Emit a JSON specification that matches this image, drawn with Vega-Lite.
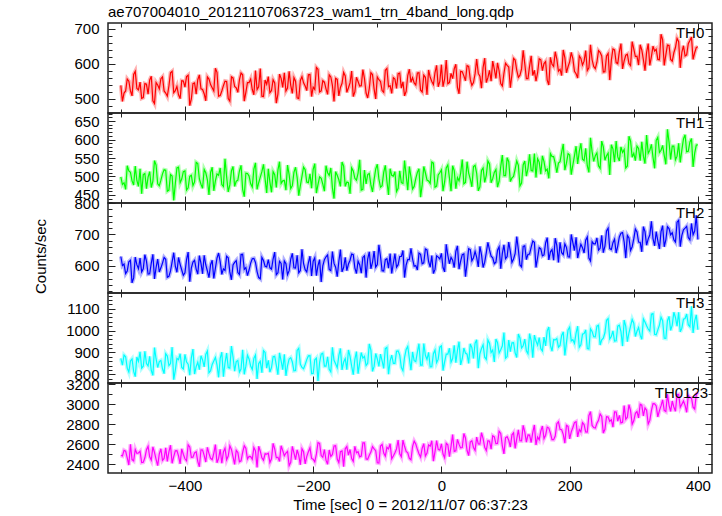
{
"$schema": "https://vega.github.io/schema/vega-lite/v6.json",
"padding": {"left": 33, "top": 4, "right": 0, "bottom": 0},
"config": {"font": "Liberation Sans", "view": {"stroke": "#222", "strokeWidth": 1.5}, "axis": {"labelFont": "Liberation Sans", "titleFont": "Liberation Sans", "labelColor": "black", "titleColor": "black", "tickColor": "#222", "grid": false}},
"data": {"values": [
{"t":-500,"TH0":539,"TH1":499,"TH2":630,"TH3":873,"TH0123":2490},
{"t":-495,"TH0":517,"TH1":483,"TH2":606,"TH3":888,"TH0123":2540},
{"t":-490,"TH0":557,"TH1":529,"TH2":584,"TH3":828,"TH0123":2465},
{"t":-485,"TH0":523,"TH1":511,"TH2":618,"TH3":861,"TH0123":2600},
{"t":-480,"TH0":570,"TH1":477,"TH2":562,"TH3":813,"TH0123":2435},
{"t":-475,"TH0":530,"TH1":489,"TH2":604,"TH3":879,"TH0123":2510},
{"t":-470,"TH0":548,"TH1":521,"TH2":625,"TH3":903,"TH0123":2530},
{"t":-465,"TH0":504,"TH1":505,"TH2":591,"TH3":837,"TH0123":2420},
{"t":-460,"TH0":542,"TH1":467,"TH2":615,"TH3":849,"TH0123":2545},
{"t":-455,"TH0":554,"TH1":513,"TH2":575,"TH3":882,"TH0123":2475},
{"t":-450,"TH0":495,"TH1":487,"TH2":637,"TH3":795,"TH0123":2575},
{"t":-445,"TH0":547,"TH1":531,"TH2":595,"TH3":870,"TH0123":2450},
{"t":-440,"TH0":529,"TH1":475,"TH2":581,"TH3":858,"TH0123":2505},
{"t":-435,"TH0":563,"TH1":507,"TH2":609,"TH3":825,"TH0123":2440},
{"t":-430,"TH0":517,"TH1":517,"TH2":621,"TH3":894,"TH0123":2565},
{"t":-425,"TH0":537,"TH1":463,"TH2":567,"TH3":840,"TH0123":2525},
{"t":-420,"TH0":579,"TH1":501,"TH2":613,"TH3":924,"TH0123":2410},
{"t":-415,"TH0":524,"TH1":481,"TH2":599,"TH3":819,"TH0123":2535},
{"t":-410,"TH0":512,"TH1":525,"TH2":627,"TH3":867,"TH0123":2485},
{"t":-405,"TH0":552,"TH1":493,"TH2":587,"TH3":831,"TH0123":2555},
{"t":-400,"TH0":534,"TH1":515,"TH2":578,"TH3":891,"TH0123":2455},
{"t":-395,"TH0":568,"TH1":469,"TH2":644,"TH3":846,"TH0123":2595},
{"t":-390,"TH0":500,"TH1":503,"TH2":594,"TH3":876,"TH0123":2470},
{"t":-385,"TH0":546,"TH1":485,"TH2":618,"TH3":801,"TH0123":2515},
{"t":-380,"TH0":555,"TH1":535,"TH2":574,"TH3":855,"TH0123":2430},
{"t":-375,"TH0":529,"TH1":479,"TH2":608,"TH3":885,"TH0123":2545},
{"t":-370,"TH0":515,"TH1":519,"TH2":634,"TH3":834,"TH0123":2490},
{"t":-365,"TH0":563,"TH1":491,"TH2":584,"TH3":906,"TH0123":2570},
{"t":-360,"TH0":541,"TH1":511,"TH2":604,"TH3":816,"TH0123":2460},
{"t":-355,"TH0":523,"TH1":461,"TH2":560,"TH3":861,"TH0123":2510},
{"t":-350,"TH0":576,"TH1":507,"TH2":625,"TH3":843,"TH0123":2415},
{"t":-345,"TH0":510,"TH1":523,"TH2":613,"TH3":873,"TH0123":2550},
{"t":-340,"TH0":538,"TH1":473,"TH2":591,"TH3":789,"TH0123":2525},
{"t":-335,"TH0":550,"TH1":499,"TH2":631,"TH3":897,"TH0123":2445},
{"t":-330,"TH0":494,"TH1":477,"TH2":581,"TH3":828,"TH0123":2585},
{"t":-325,"TH0":560,"TH1":527,"TH2":603,"TH3":879,"TH0123":2475},
{"t":-320,"TH0":532,"TH1":487,"TH2":617,"TH3":858,"TH0123":2540},
{"t":-315,"TH0":555,"TH1":515,"TH2":573,"TH3":810,"TH0123":2425},
{"t":-310,"TH0":569,"TH1":465,"TH2":637,"TH3":912,"TH0123":2520},
{"t":-305,"TH0":519,"TH1":509,"TH2":595,"TH3":837,"TH0123":2560},
{"t":-300,"TH0":547,"TH1":501,"TH2":587,"TH3":870,"TH0123":2480},
{"t":-295,"TH0":527,"TH1":471,"TH2":623,"TH3":822,"TH0123":2450},
{"t":-290,"TH0":581,"TH1":537,"TH2":611,"TH3":888,"TH0123":2535},
{"t":-285,"TH0":535,"TH1":483,"TH2":563,"TH3":849,"TH0123":2580},
{"t":-280,"TH0":508,"TH1":513,"TH2":627,"TH3":807,"TH0123":2465},
{"t":-275,"TH0":554,"TH1":493,"TH2":599,"TH3":900,"TH0123":2505},
{"t":-270,"TH0":564,"TH1":521,"TH2":620,"TH3":864,"TH0123":2510},
{"t":-265,"TH0":524,"TH1":457,"TH2":590,"TH3":831,"TH0123":2455},
{"t":-260,"TH0":546,"TH1":505,"TH2":644,"TH3":882,"TH0123":2555},
{"t":-255,"TH0":514,"TH1":517,"TH2":578,"TH3":798,"TH0123":2470},
{"t":-250,"TH0":559,"TH1":481,"TH2":608,"TH3":861,"TH0123":2585},
{"t":-245,"TH0":575,"TH1":489,"TH2":616,"TH3":891,"TH0123":2485},
{"t":-240,"TH0":531,"TH1":531,"TH2":572,"TH3":840,"TH0123":2530},
{"t":-235,"TH0":539,"TH1":467,"TH2":622,"TH3":876,"TH0123":2420},
{"t":-230,"TH0":561,"TH1":511,"TH2":594,"TH3":816,"TH0123":2515},
{"t":-225,"TH0":503,"TH1":497,"TH2":634,"TH3":909,"TH0123":2545},
{"t":-220,"TH0":553,"TH1":475,"TH2":585,"TH3":846,"TH0123":2395},
{"t":-215,"TH0":546,"TH1":525,"TH2":607,"TH3":825,"TH0123":2525},
{"t":-210,"TH0":524,"TH1":485,"TH2":581,"TH3":867,"TH0123":2480},
{"t":-205,"TH0":570,"TH1":507,"TH2":631,"TH3":885,"TH0123":2565},
{"t":-200,"TH0":534,"TH1":519,"TH2":615,"TH3":804,"TH0123":2450},
{"t":-195,"TH0":590,"TH1":455,"TH2":569,"TH3":874,"TH0123":2502},
{"t":-190,"TH0":520,"TH1":499,"TH2":620,"TH3":854,"TH0123":2608},
{"t":-185,"TH0":552,"TH1":479,"TH2":600,"TH3":896,"TH0123":2470},
{"t":-180,"TH0":529,"TH1":529,"TH2":629,"TH3":837,"TH0123":2441},
{"t":-175,"TH0":569,"TH1":503,"TH2":589,"TH3":823,"TH0123":2543},
{"t":-170,"TH0":539,"TH1":469,"TH2":646,"TH3":923,"TH0123":2499},
{"t":-165,"TH0":559,"TH1":513,"TH2":596,"TH3":848,"TH0123":2586},
{"t":-160,"TH0":509,"TH1":491,"TH2":614,"TH3":885,"TH0123":2417},
{"t":-155,"TH0":545,"TH1":539,"TH2":581,"TH3":820,"TH0123":2534},
{"t":-150,"TH0":566,"TH1":473,"TH2":627,"TH3":872,"TH0123":2555},
{"t":-145,"TH0":532,"TH1":483,"TH2":606,"TH3":911,"TH0123":2492},
{"t":-140,"TH0":580,"TH1":523,"TH2":638,"TH3":837,"TH0123":2458},
{"t":-135,"TH0":520,"TH1":495,"TH2":594,"TH3":868,"TH0123":2580},
{"t":-130,"TH0":550,"TH1":509,"TH2":615,"TH3":803,"TH0123":2526},
{"t":-125,"TH0":538,"TH1":463,"TH2":577,"TH3":899,"TH0123":2483},
{"t":-120,"TH0":558,"TH1":517,"TH2":632,"TH3":882,"TH0123":2614},
{"t":-115,"TH0":503,"TH1":505,"TH2":622,"TH3":850,"TH0123":2451},
{"t":-110,"TH0":575,"TH1":477,"TH2":591,"TH3":911,"TH0123":2522},
{"t":-105,"TH0":529,"TH1":491,"TH2":647,"TH3":836,"TH0123":2554},
{"t":-100,"TH0":563,"TH1":533,"TH2":604,"TH3":870,"TH0123":2415},
{"t":-95,"TH0":550,"TH1":471,"TH2":630,"TH3":892,"TH0123":2582},
{"t":-90,"TH0":519,"TH1":511,"TH2":584,"TH3":827,"TH0123":2513},
{"t":-85,"TH0":587,"TH1":487,"TH2":623,"TH3":923,"TH0123":2570},
{"t":-80,"TH0":538,"TH1":521,"TH2":639,"TH3":861,"TH0123":2606},
{"t":-75,"TH0":561,"TH1":501,"TH2":608,"TH3":850,"TH0123":2483},
{"t":-70,"TH0":530,"TH1":459,"TH2":596,"TH3":905,"TH0123":2554},
{"t":-65,"TH0":574,"TH1":515,"TH2":630,"TH3":887,"TH0123":2506},
{"t":-60,"TH0":549,"TH1":481,"TH2":649,"TH3":816,"TH0123":2642},
{"t":-55,"TH0":522,"TH1":503,"TH2":603,"TH3":913,"TH0123":2528},
{"t":-50,"TH0":585,"TH1":527,"TH2":620,"TH3":872,"TH0123":2460},
{"t":-45,"TH0":561,"TH1":466,"TH2":622,"TH3":902,"TH0123":2577},
{"t":-40,"TH0":540,"TH1":494,"TH2":601,"TH3":858,"TH0123":2603},
{"t":-35,"TH0":575,"TH1":521,"TH2":641,"TH3":940,"TH0123":2505},
{"t":-30,"TH0":520,"TH1":477,"TH2":607,"TH3":842,"TH0123":2561},
{"t":-25,"TH0":562,"TH1":510,"TH2":654,"TH3":887,"TH0123":2483},
{"t":-20,"TH0":583,"TH1":488,"TH2":614,"TH3":900,"TH0123":2594},
{"t":-15,"TH0":550,"TH1":539,"TH2":633,"TH3":835,"TH0123":2636},
{"t":-10,"TH0":575,"TH1":471,"TH2":589,"TH3":911,"TH0123":2527},
{"t":-5,"TH0":535,"TH1":504,"TH2":628,"TH3":869,"TH0123":2549},
{"t":0,"TH0":598,"TH1":518,"TH2":640,"TH3":930,"TH0123":2605},
{"t":5,"TH0":557,"TH1":485,"TH2":581,"TH3":857,"TH0123":2465},
{"t":10,"TH0":544,"TH1":531,"TH2":634,"TH3":892,"TH0123":2594},
{"t":15,"TH0":573,"TH1":460,"TH2":627,"TH3":855,"TH0123":2579},
{"t":20,"TH0":586,"TH1":516,"TH2":595,"TH3":932,"TH0123":2529},
{"t":25,"TH0":533,"TH1":497,"TH2":664,"TH3":910,"TH0123":2649},
{"t":30,"TH0":579,"TH1":509,"TH2":615,"TH3":843,"TH0123":2564},
{"t":35,"TH0":566,"TH1":480,"TH2":638,"TH3":920,"TH0123":2708},
{"t":40,"TH0":595,"TH1":540,"TH2":607,"TH3":892,"TH0123":2538},
{"t":45,"TH0":556,"TH1":493,"TH2":652,"TH3":939,"TH0123":2623},
{"t":50,"TH0":547,"TH1":527,"TH2":626,"TH3":872,"TH0123":2568},
{"t":55,"TH0":614,"TH1":508,"TH2":627,"TH3":958,"TH0123":2672},
{"t":60,"TH0":565,"TH1":472,"TH2":662,"TH3":894,"TH0123":2602},
{"t":65,"TH0":590,"TH1":523,"TH2":595,"TH3":935,"TH0123":2657},
{"t":70,"TH0":547,"TH1":503,"TH2":642,"TH3":868,"TH0123":2537},
{"t":75,"TH0":582,"TH1":534,"TH2":651,"TH3":942,"TH0123":2631},
{"t":80,"TH0":608,"TH1":494,"TH2":626,"TH3":911,"TH0123":2686},
{"t":85,"TH0":559,"TH1":519,"TH2":612,"TH3":961,"TH0123":2606},
{"t":90,"TH0":580,"TH1":487,"TH2":661,"TH3":897,"TH0123":2731},
{"t":95,"TH0":537,"TH1":558,"TH2":640,"TH3":929,"TH0123":2585},
{"t":100,"TH0":602,"TH1":502,"TH2":623,"TH3":874,"TH0123":2665},
{"t":105,"TH0":591,"TH1":540,"TH2":676,"TH3":957,"TH0123":2640},
{"t":110,"TH0":570,"TH1":496,"TH2":611,"TH3":944,"TH0123":2695},
{"t":115,"TH0":611,"TH1":520,"TH2":640,"TH3":898,"TH0123":2559},
{"t":120,"TH0":562,"TH1":530,"TH2":652,"TH3":984,"TH0123":2744},
{"t":125,"TH0":586,"TH1":482,"TH2":597,"TH3":920,"TH0123":2634},
{"t":130,"TH0":601,"TH1":542,"TH2":664,"TH3":961,"TH0123":2724},
{"t":135,"TH0":558,"TH1":522,"TH2":637,"TH3":894,"TH0123":2693},
{"t":140,"TH0":623,"TH1":516,"TH2":660,"TH3":953,"TH0123":2618},
{"t":145,"TH0":582,"TH1":562,"TH2":675,"TH3":979,"TH0123":2793},
{"t":150,"TH0":575,"TH1":548,"TH2":626,"TH3":933,"TH0123":2673},
{"t":155,"TH0":612,"TH1":506,"TH2":654,"TH3":917,"TH0123":2732},
{"t":160,"TH0":601,"TH1":540,"TH2":635,"TH3":970,"TH0123":2657},
{"t":165,"TH0":554,"TH1":520,"TH2":690,"TH3":999,"TH0123":2772},
{"t":170,"TH0":619,"TH1":562,"TH2":645,"TH3":932,"TH0123":2712},
{"t":175,"TH0":593,"TH1":554,"TH2":618,"TH3":958,"TH0123":2646},
{"t":180,"TH0":614,"TH1":510,"TH2":665,"TH3":963,"TH0123":2806},
{"t":185,"TH0":585,"TH1":540,"TH2":675,"TH3":932,"TH0123":2751},
{"t":190,"TH0":640,"TH1":588,"TH2":636,"TH3":994,"TH0123":2700},
{"t":195,"TH0":575,"TH1":536,"TH2":659,"TH3":945,"TH0123":2790},
{"t":200,"TH0":606,"TH1":558,"TH2":628,"TH3":1016,"TH0123":2655},
{"t":205,"TH0":615,"TH1":531,"TH2":674,"TH3":958,"TH0123":2768},
{"t":210,"TH0":572,"TH1":582,"TH2":691,"TH3":988,"TH0123":2826},
{"t":215,"TH0":623,"TH1":568,"TH2":649,"TH3":924,"TH0123":2748},
{"t":220,"TH0":597,"TH1":547,"TH2":658,"TH3":983,"TH0123":2816},
{"t":225,"TH0":638,"TH1":576,"TH2":682,"TH3":1003,"TH0123":2724},
{"t":230,"TH0":589,"TH1":511,"TH2":625,"TH3":916,"TH0123":2886},
{"t":235,"TH0":612,"TH1":567,"TH2":677,"TH3":996,"TH0123":2789},
{"t":240,"TH0":587,"TH1":556,"TH2":670,"TH3":971,"TH0123":2762},
{"t":245,"TH0":638,"TH1":529,"TH2":650,"TH3":1024,"TH0123":2840},
{"t":250,"TH0":623,"TH1":596,"TH2":697,"TH3":958,"TH0123":2878},
{"t":255,"TH0":578,"TH1":544,"TH2":663,"TH3":990,"TH0123":2750},
{"t":260,"TH0":630,"TH1":563,"TH2":720,"TH3":1055,"TH0123":2873},
{"t":265,"TH0":611,"TH1":586,"TH2":652,"TH3":973,"TH0123":2846},
{"t":270,"TH0":640,"TH1":539,"TH2":685,"TH3":952,"TH0123":2924},
{"t":275,"TH0":601,"TH1":553,"TH2":663,"TH3":1020,"TH0123":2831},
{"t":280,"TH0":658,"TH1":580,"TH2":704,"TH3":995,"TH0123":2814},
{"t":285,"TH0":609,"TH1":573,"TH2":676,"TH3":1048,"TH0123":2987},
{"t":290,"TH0":628,"TH1":528,"TH2":697,"TH3":949,"TH0123":2870},
{"t":295,"TH0":595,"TH1":596,"TH2":649,"TH3":1020,"TH0123":2937},
{"t":300,"TH0":643,"TH1":563,"TH2":686,"TH3":1034,"TH0123":2835},
{"t":305,"TH0":622,"TH1":582,"TH2":708,"TH3":997,"TH0123":2928},
{"t":310,"TH0":655,"TH1":543,"TH2":675,"TH3":979,"TH0123":3001},
{"t":315,"TH0":612,"TH1":555,"TH2":725,"TH3":1053,"TH0123":2883},
{"t":320,"TH0":633,"TH1":612,"TH2":666,"TH3":1022,"TH0123":2941},
{"t":325,"TH0":596,"TH1":571,"TH2":698,"TH3":997,"TH0123":2839},
{"t":330,"TH0":651,"TH1":552,"TH2":687,"TH3":1078,"TH0123":3007},
{"t":335,"TH0":642,"TH1":598,"TH2":709,"TH3":981,"TH0123":2984},
{"t":340,"TH0":612,"TH1":565,"TH2":654,"TH3":1025,"TH0123":2937},
{"t":345,"TH0":669,"TH1":584,"TH2":728,"TH3":1045,"TH0123":3045},
{"t":350,"TH0":626,"TH1":533,"TH2":683,"TH3":964,"TH0123":2928},
{"t":355,"TH0":653,"TH1":593,"TH2":719,"TH3":1065,"TH0123":2990},
{"t":360,"TH0":608,"TH1":582,"TH2":706,"TH3":1025,"TH0123":3033},
{"t":365,"TH0":647,"TH1":545,"TH2":676,"TH3":1060,"TH0123":2931},
{"t":370,"TH0":664,"TH1":590,"TH2":745,"TH3":1084,"TH0123":3099},
{"t":375,"TH0":633,"TH1":572,"TH2":697,"TH3":1011,"TH0123":3001},
{"t":380,"TH0":623,"TH1":613,"TH2":720,"TH3":1055,"TH0123":2989},
{"t":385,"TH0":658,"TH1":568,"TH2":690,"TH3":1027,"TH0123":3087},
{"t":390,"TH0":677,"TH1":603,"TH2":735,"TH3":1111,"TH0123":3065},
{"t":395,"TH0":632,"TH1":563,"TH2":711,"TH3":1044,"TH0123":2952},
{"t":400,"TH0":649,"TH1":586,"TH2":684,"TH3":1004,"TH0123":3120},
{"t":-497.5,"TH0":493,"TH1":478,"TH2":601,"TH3":842,"TH0123":2483},
{"t":-492.5,"TH0":523,"TH1":465,"TH2":576,"TH3":880,"TH0123":2531},
{"t":-487.5,"TH0":551,"TH1":515,"TH2":613,"TH3":810,"TH0123":2393},
{"t":-482.5,"TH0":509,"TH1":488,"TH2":546,"TH3":870,"TH0123":2447},
{"t":-477.5,"TH0":579,"TH1":528,"TH2":628,"TH3":789,"TH0123":2549},
{"t":-472.5,"TH0":526,"TH1":473,"TH2":591,"TH3":859,"TH0123":2513},
{"t":-467.5,"TH0":502,"TH1":453,"TH2":581,"TH3":828,"TH0123":2417},
{"t":-462.5,"TH0":544,"TH1":508,"TH2":636,"TH3":905,"TH0123":2465},
{"t":-457.5,"TH0":514,"TH1":498,"TH2":574,"TH3":838,"TH0123":2579},
{"t":-452.5,"TH0":565,"TH1":470,"TH2":609,"TH3":817,"TH0123":2441},
{"t":-447.5,"TH0":487,"TH1":543,"TH2":559,"TH3":922,"TH0123":2519},
{"t":-442.5,"TH0":540,"TH1":480,"TH2":622,"TH3":831,"TH0123":2387},
{"t":-437.5,"TH0":558,"TH1":490,"TH2":594,"TH3":863,"TH0123":2555},
{"t":-432.5,"TH0":523,"TH1":518,"TH2":627,"TH3":803,"TH0123":2459},
{"t":-427.5,"TH0":508,"TH1":460,"TH2":564,"TH3":884,"TH0123":2429},
{"t":-422.5,"TH0":575,"TH1":505,"TH2":584,"TH3":849,"TH0123":2591},
{"t":-417.5,"TH0":518,"TH1":435,"TH2":642,"TH3":775,"TH0123":2477},
{"t":-412.5,"TH0":536,"TH1":523,"TH2":580,"TH3":873,"TH0123":2537},
{"t":-407.5,"TH0":501,"TH1":483,"TH2":605,"TH3":894,"TH0123":2405},
{"t":-402.5,"TH0":551,"TH1":513,"TH2":570,"TH3":824,"TH0123":2501},
{"t":-397.5,"TH0":564,"TH1":463,"TH2":620,"TH3":856,"TH0123":2435},
{"t":-392.5,"TH0":481,"TH1":500,"TH2":550,"TH3":796,"TH0123":2573},
{"t":-387.5,"TH0":544,"TH1":475,"TH2":612,"TH3":915,"TH0123":2471},
{"t":-382.5,"TH0":514,"TH1":538,"TH2":590,"TH3":835,"TH0123":2525},
{"t":-377.5,"TH0":569,"TH1":493,"TH2":633,"TH3":821,"TH0123":2375},
{"t":-372.5,"TH0":527,"TH1":468,"TH2":575,"TH3":866,"TH0123":2543},
{"t":-367.5,"TH0":495,"TH1":510,"TH2":603,"TH3":891,"TH0123":2423},
{"t":-362.5,"TH0":557,"TH1":450,"TH2":563,"TH3":807,"TH0123":2507},
{"t":-357.5,"TH0":532,"TH1":525,"TH2":618,"TH3":845,"TH0123":2447},
{"t":-352.5,"TH0":588,"TH1":488,"TH2":593,"TH3":877,"TH0123":2597},
{"t":-347.5,"TH0":508,"TH1":503,"TH2":641,"TH3":786,"TH0123":2459},
{"t":-342.5,"TH0":523,"TH1":478,"TH2":573,"TH3":901,"TH0123":2411},
{"t":-337.5,"TH0":551,"TH1":548,"TH2":586,"TH3":852,"TH0123":2561},
{"t":-332.5,"TH0":501,"TH1":458,"TH2":626,"TH3":831,"TH0123":2483},
{"t":-327.5,"TH0":563,"TH1":515,"TH2":556,"TH3":929,"TH0123":2549},
{"t":-322.5,"TH0":536,"TH1":473,"TH2":611,"TH3":814,"TH0123":2399},
{"t":-317.5,"TH0":519,"TH1":490,"TH2":579,"TH3":863,"TH0123":2519},
{"t":-312.5,"TH0":574,"TH1":530,"TH2":636,"TH3":824,"TH0123":2435},
{"t":-307.5,"TH0":494,"TH1":445,"TH2":589,"TH3":800,"TH0123":2585},
{"t":-302.5,"TH0":547,"TH1":508,"TH2":569,"TH3":887,"TH0123":2453},
{"t":-297.5,"TH0":557,"TH1":480,"TH2":609,"TH3":838,"TH0123":2477},
{"t":-292.5,"TH0":512,"TH1":520,"TH2":624,"TH3":873,"TH0123":2567},
{"t":-287.5,"TH0":527,"TH1":465,"TH2":582,"TH3":779,"TH0123":2369},
{"t":-282.5,"TH0":587,"TH1":498,"TH2":559,"TH3":859,"TH0123":2531},
{"t":-277.5,"TH0":507,"TH1":533,"TH2":617,"TH3":908,"TH0123":2441},
{"t":-272.5,"TH0":542,"TH1":455,"TH2":597,"TH3":828,"TH0123":2501},
{"t":-267.5,"TH0":518,"TH1":485,"TH2":594,"TH3":810,"TH0123":2417},
{"t":-262.5,"TH0":555,"TH1":513,"TH2":622,"TH3":880,"TH0123":2609},
{"t":-257.5,"TH0":488,"TH1":470,"TH2":572,"TH3":842,"TH0123":2465},
{"t":-252.5,"TH0":571,"TH1":540,"TH2":615,"TH3":898,"TH0123":2429},
{"t":-247.5,"TH0":533,"TH1":488,"TH2":557,"TH3":821,"TH0123":2537},
{"t":-242.5,"TH0":523,"TH1":463,"TH2":607,"TH3":793,"TH0123":2513},
{"t":-237.5,"TH0":579,"TH1":505,"TH2":585,"TH3":870,"TH0123":2387},
{"t":-232.5,"TH0":516,"TH1":475,"TH2":640,"TH3":856,"TH0123":2579},
{"t":-227.5,"TH0":551,"TH1":525,"TH2":593,"TH3":817,"TH0123":2447},
{"t":-222.5,"TH0":501,"TH1":448,"TH2":578,"TH3":919,"TH0123":2489},
{"t":-217.5,"TH0":564,"TH1":500,"TH2":653,"TH3":831,"TH0123":2555},
{"t":-212.5,"TH0":537,"TH1":518,"TH2":588,"TH3":845,"TH0123":2405},
{"t":-207.5,"TH0":569,"TH1":483,"TH2":610,"TH3":884,"TH0123":2525},
{"t":-202.5,"TH0":507,"TH1":468,"TH2":568,"TH3":803,"TH0123":2459},
{"t":-197.5,"TH0":527,"TH1":535,"TH2":626,"TH3":866,"TH0123":2424},
{"t":-192.5,"TH0":585,"TH1":478,"TH2":601,"TH3":769,"TH0123":2617},
{"t":-187.5,"TH0":523,"TH1":495,"TH2":549,"TH3":892,"TH0123":2487},
{"t":-182.5,"TH0":548,"TH1":460,"TH2":620,"TH3":837,"TH0123":2548},
{"t":-177.5,"TH0":513,"TH1":510,"TH2":635,"TH3":880,"TH0123":2400},
{"t":-172.5,"TH0":563,"TH1":523,"TH2":585,"TH3":811,"TH0123":2479},
{"t":-167.5,"TH0":493,"TH1":440,"TH2":608,"TH3":864,"TH0123":2583},
{"t":-162.5,"TH0":556,"TH1":503,"TH2":566,"TH3":830,"TH0123":2452},
{"t":-157.5,"TH0":533,"TH1":473,"TH2":652,"TH3":918,"TH0123":2526},
{"t":-152.5,"TH0":576,"TH1":528,"TH2":595,"TH3":856,"TH0123":2377},
{"t":-147.5,"TH0":519,"TH1":485,"TH2":585,"TH3":821,"TH0123":2577},
{"t":-142.5,"TH0":546,"TH1":453,"TH2":618,"TH3":882,"TH0123":2548},
{"t":-137.5,"TH0":507,"TH1":515,"TH2":636,"TH3":798,"TH0123":2430},
{"t":-132.5,"TH0":562,"TH1":490,"TH2":576,"TH3":904,"TH0123":2515},
{"t":-127.5,"TH0":537,"TH1":545,"TH2":604,"TH3":852,"TH0123":2475},
{"t":-122.5,"TH0":584,"TH1":465,"TH2":627,"TH3":874,"TH0123":2614},
{"t":-117.5,"TH0":517,"TH1":480,"TH2":563,"TH3":840,"TH0123":2454},
{"t":-112.5,"TH0":530,"TH1":508,"TH2":645,"TH3":939,"TH0123":2491},
{"t":-107.5,"TH0":570,"TH1":458,"TH2":611,"TH3":813,"TH0123":2577},
{"t":-102.5,"TH0":500,"TH1":520,"TH2":596,"TH3":895,"TH0123":2536},
{"t":-97.5,"TH0":555,"TH1":493,"TH2":667,"TH3":836,"TH0123":2412},
{"t":-92.5,"TH0":524,"TH1":475,"TH2":585,"TH3":861,"TH0123":2599},
{"t":-87.5,"TH0":582,"TH1":530,"TH2":620,"TH3":918,"TH0123":2481},
{"t":-82.5,"TH0":535,"TH1":450,"TH2":593,"TH3":800,"TH0123":2554},
{"t":-77.5,"TH0":516,"TH1":503,"TH2":576,"TH3":888,"TH0123":2454},
{"t":-72.5,"TH0":557,"TH1":513,"TH2":639,"TH3":850,"TH0123":2515},
{"t":-67.5,"TH0":572,"TH1":468,"TH2":604,"TH3":907,"TH0123":2643},
{"t":-62.5,"TH0":531,"TH1":483,"TH2":630,"TH3":831,"TH0123":2476},
{"t":-57.5,"TH0":509,"TH1":543,"TH2":563,"TH3":877,"TH0123":2580},
{"t":-52.5,"TH0":567,"TH1":463,"TH2":621,"TH3":927,"TH0123":2515},
{"t":-47.5,"TH0":548,"TH1":498,"TH2":656,"TH3":819,"TH0123":2445},
{"t":-42.5,"TH0":546,"TH1":473,"TH2":599,"TH3":862,"TH0123":2632},
{"t":-37.5,"TH0":574,"TH1":511,"TH2":587,"TH3":901,"TH0123":2550},
{"t":-32.5,"TH0":525,"TH1":444,"TH2":637,"TH3":842,"TH0123":2473},
{"t":-27.5,"TH0":568,"TH1":527,"TH2":610,"TH3":941,"TH0123":2607},
{"t":-22.5,"TH0":512,"TH1":490,"TH2":651,"TH3":868,"TH0123":2512},
{"t":-17.5,"TH0":562,"TH1":481,"TH2":596,"TH3":834,"TH0123":2580},
{"t":-12.5,"TH0":541,"TH1":536,"TH2":576,"TH3":894,"TH0123":2431},
{"t":-7.5,"TH0":596,"TH1":474,"TH2":632,"TH3":853,"TH0123":2637},
{"t":-2.5,"TH0":550,"TH1":510,"TH2":622,"TH3":924,"TH0123":2542},
{"t":2.5,"TH0":535,"TH1":460,"TH2":595,"TH3":817,"TH0123":2503},
{"t":7.5,"TH0":611,"TH1":523,"TH2":669,"TH3":892,"TH0123":2610},
{"t":12.5,"TH0":547,"TH1":496,"TH2":607,"TH3":919,"TH0123":2477},
{"t":17.5,"TH0":558,"TH1":529,"TH2":618,"TH3":872,"TH0123":2698},
{"t":22.5,"TH0":599,"TH1":467,"TH2":646,"TH3":853,"TH0123":2534},
{"t":27.5,"TH0":515,"TH1":488,"TH2":590,"TH3":949,"TH0123":2599},
{"t":32.5,"TH0":578,"TH1":546,"TH2":636,"TH3":871,"TH0123":2568},
{"t":37.5,"TH0":552,"TH1":484,"TH2":566,"TH3":897,"TH0123":2663},
{"t":42.5,"TH0":593,"TH1":509,"TH2":655,"TH3":850,"TH0123":2487},
{"t":47.5,"TH0":539,"TH1":472,"TH2":616,"TH3":922,"TH0123":2636},
{"t":52.5,"TH0":572,"TH1":530,"TH2":646,"TH3":942,"TH0123":2539},
{"t":57.5,"TH0":573,"TH1":461,"TH2":597,"TH3":828,"TH0123":2604},
{"t":62.5,"TH0":531,"TH1":516,"TH2":636,"TH3":918,"TH0123":2716},
{"t":67.5,"TH0":617,"TH1":484,"TH2":612,"TH3":878,"TH0123":2571},
{"t":72.5,"TH0":561,"TH1":542,"TH2":675,"TH3":957,"TH0123":2636},
{"t":77.5,"TH0":551,"TH1":483,"TH2":631,"TH3":899,"TH0123":2551},
{"t":82.5,"TH0":585,"TH1":511,"TH2":607,"TH3":856,"TH0123":2675},
{"t":87.5,"TH0":603,"TH1":471,"TH2":650,"TH3":945,"TH0123":2608},
{"t":92.5,"TH0":544,"TH1":527,"TH2":591,"TH3":912,"TH0123":2709},
{"t":97.5,"TH0":573,"TH1":502,"TH2":667,"TH3":991,"TH0123":2504},
{"t":102.5,"TH0":596,"TH1":551,"TH2":630,"TH3":881,"TH0123":2676},
{"t":107.5,"TH0":532,"TH1":486,"TH2":646,"TH3":904,"TH0123":2573},
{"t":112.5,"TH0":616,"TH1":500,"TH2":622,"TH3":945,"TH0123":2716},
{"t":117.5,"TH0":582,"TH1":542,"TH2":693,"TH3":877,"TH0123":2655},
{"t":122.5,"TH0":568,"TH1":474,"TH2":603,"TH3":966,"TH0123":2635},
{"t":127.5,"TH0":639,"TH1":531,"TH2":662,"TH3":930,"TH0123":2790},
{"t":132.5,"TH0":558,"TH1":501,"TH2":620,"TH3":907,"TH0123":2621},
{"t":137.5,"TH0":594,"TH1":560,"TH2":638,"TH3":986,"TH0123":2692},
{"t":142.5,"TH0":567,"TH1":515,"TH2":679,"TH3":876,"TH0123":2720},
{"t":147.5,"TH0":551,"TH1":497,"TH2":595,"TH3":952,"TH0123":2593},
{"t":152.5,"TH0":615,"TH1":539,"TH2":658,"TH3":968,"TH0123":2646},
{"t":157.5,"TH0":581,"TH1":556,"TH2":632,"TH3":907,"TH0123":2783},
{"t":162.5,"TH0":607,"TH1":515,"TH2":673,"TH3":930,"TH0123":2691},
{"t":167.5,"TH0":540,"TH1":495,"TH2":619,"TH3":1016,"TH0123":2762},
{"t":172.5,"TH0":599,"TH1":554,"TH2":652,"TH3":906,"TH0123":2647},
{"t":177.5,"TH0":635,"TH1":536,"TH2":688,"TH3":957,"TH0123":2682},
{"t":182.5,"TH0":579,"TH1":536,"TH2":611,"TH3":924,"TH0123":2824},
{"t":187.5,"TH0":567,"TH1":565,"TH2":642,"TH3":978,"TH0123":2745},
{"t":192.5,"TH0":618,"TH1":517,"TH2":670,"TH3":886,"TH0123":2612},
{"t":197.5,"TH0":592,"TH1":562,"TH2":629,"TH3":1003,"TH0123":2779},
{"t":202.5,"TH0":633,"TH1":505,"TH2":700,"TH3":953,"TH0123":2725},
{"t":207.5,"TH0":579,"TH1":556,"TH2":649,"TH3":941,"TH0123":2817},
{"t":212.5,"TH0":560,"TH1":534,"TH2":625,"TH3":1020,"TH0123":2674},
{"t":217.5,"TH0":616,"TH1":590,"TH2":669,"TH3":935,"TH0123":2724},
{"t":222.5,"TH0":608,"TH1":543,"TH2":641,"TH3":986,"TH0123":2798},
{"t":227.5,"TH0":581,"TH1":529,"TH2":692,"TH3":918,"TH0123":2722},
{"t":232.5,"TH0":655,"TH1":605,"TH2":616,"TH3":1008,"TH0123":2927},
{"t":237.5,"TH0":593,"TH1":541,"TH2":670,"TH3":972,"TH0123":2767},
{"t":242.5,"TH0":605,"TH1":564,"TH2":689,"TH3":1020,"TH0123":2811},
{"t":247.5,"TH0":633,"TH1":522,"TH2":656,"TH3":934,"TH0123":2903},
{"t":252.5,"TH0":577,"TH1":580,"TH2":642,"TH3":965,"TH0123":2712},
{"t":257.5,"TH0":623,"TH1":556,"TH2":711,"TH3":1047,"TH0123":2876},
{"t":262.5,"TH0":554,"TH1":504,"TH2":655,"TH3":962,"TH0123":2830},
{"t":267.5,"TH0":643,"TH1":575,"TH2":674,"TH3":999,"TH0123":2772},
{"t":272.5,"TH0":604,"TH1":596,"TH2":641,"TH3":953,"TH0123":2923},
{"t":277.5,"TH0":635,"TH1":542,"TH2":692,"TH3":1025,"TH0123":2889},
{"t":282.5,"TH0":586,"TH1":565,"TH2":706,"TH3":929,"TH0123":2819},
{"t":287.5,"TH0":625,"TH1":523,"TH2":625,"TH3":1019,"TH0123":2851},
{"t":292.5,"TH0":601,"TH1":609,"TH2":689,"TH3":990,"TH0123":2996},
{"t":297.5,"TH0":664,"TH1":552,"TH2":661,"TH3":1051,"TH0123":2800},
{"t":302.5,"TH0":621,"TH1":543,"TH2":717,"TH3":973,"TH0123":2910},
{"t":307.5,"TH0":597,"TH1":576,"TH2":676,"TH3":1014,"TH0123":2864},
{"t":312.5,"TH0":640,"TH1":594,"TH2":645,"TH3":960,"TH0123":2991},
{"t":317.5,"TH0":581,"TH1":535,"TH2":709,"TH3":1039,"TH0123":2963},
{"t":322.5,"TH0":658,"TH1":563,"TH2":686,"TH3":1007,"TH0123":2803},
{"t":327.5,"TH0":621,"TH1":587,"TH2":742,"TH3":1075,"TH0123":2937},
{"t":332.5,"TH0":637,"TH1":522,"TH2":664,"TH3":983,"TH0123":3004},
{"t":337.5,"TH0":613,"TH1":606,"TH2":680,"TH3":1003,"TH0123":2874},
{"t":342.5,"TH0":685,"TH1":571,"TH2":709,"TH3":1061,"TH0123":2984},
{"t":347.5,"TH0":596,"TH1":557,"TH2":661,"TH3":965,"TH0123":2938},
{"t":352.5,"TH0":654,"TH1":628,"TH2":725,"TH3":1045,"TH0123":3101},
{"t":357.5,"TH0":613,"TH1":546,"TH2":699,"TH3":1001,"TH0123":2929},
{"t":362.5,"TH0":632,"TH1":582,"TH2":683,"TH3":1084,"TH0123":2973},
{"t":367.5,"TH0":673,"TH1":555,"TH2":739,"TH3":1020,"TH0123":3095},
{"t":372.5,"TH0":589,"TH1":538,"TH2":661,"TH3":994,"TH0123":2970},
{"t":377.5,"TH0":652,"TH1":602,"TH2":715,"TH3":1052,"TH0123":3032},
{"t":382.5,"TH0":626,"TH1":567,"TH2":726,"TH3":1076,"TH0123":2920},
{"t":387.5,"TH0":667,"TH1":593,"TH2":683,"TH3":1018,"TH0123":3066},
{"t":392.5,"TH0":613,"TH1":526,"TH2":699,"TH3":989,"TH0123":2971},
{"t":397.5,"TH0":647,"TH1":585,"TH2":761,"TH3":1072,"TH0123":3099}
]},
"spacing": 0,
"bounds": "flush",
"vconcat": [
{
 "width": 604, "height": 90,
 "title": {"text": "ae707004010_20121107063723_wam1_trn_4band_long.qdp", "anchor": "start", "frame": "group", "fontSize": 15, "fontWeight": "normal", "font": "Liberation Sans", "color": "black", "offset": 2},
 "layer": [
  {"mark": {"type": "line", "color": "#ff0000", "strokeWidth": 4, "opacity": 0.3, "clip": true},
   "encoding": {
    "x": {"field": "t", "type": "quantitative", "scale": {"domain": [-520, 422], "nice": false, "zero": false}, "axis": null},
    "y": {"field": "TH0", "type": "quantitative", "scale": {"domain": [460, 717], "nice": false, "zero": false},
          "axis": {"orient": "left", "ticks": false, "domain": false, "values": [500, 600, 700], "format": "d", "labelPadding": 9, "labelFontSize": 15, "labelOverlap": false, "labelBound": false, "title": null}}}},
  {"mark": {"type": "line", "color": "#ff0000", "strokeWidth": 1.2, "clip": true},
   "encoding": {
    "x": {"field": "t", "type": "quantitative", "scale": {"domain": [-520, 422], "nice": false, "zero": false},
          "axis": {"orient": "bottom", "labels": false, "domain": false, "title": null, "values": [-500, -400, -300, -200, -100, 0, 100, 200, 300, 400], "tickSize": {"condition": {"test": "datum.value % 200 === 0", "value": -7}, "value": -4}}},
    "y": {"field": "TH0", "type": "quantitative", "scale": {"domain": [460, 717], "nice": false, "zero": false},
          "axis": {"orient": "left", "labels": false, "domain": false, "title": null, "values": [460, 480, 500, 520, 540, 560, 580, 600, 620, 640, 660, 680, 700], "tickSize": {"condition": {"test": "datum.value % 100 === 0", "value": -7}, "value": -4}}}}},
  {"mark": {"type": "point", "opacity": 0, "size": 1},
   "encoding": {
    "x": {"field": "t", "type": "quantitative", "scale": {"domain": [-520, 422], "nice": false, "zero": false},
          "axis": {"orient": "top", "labels": false, "domain": false, "title": null, "values": [-500, -400, -300, -200, -100, 0, 100, 200, 300, 400], "tickSize": {"condition": {"test": "datum.value % 200 === 0", "value": -7}, "value": -4}}},
    "y": {"field": "TH0", "type": "quantitative", "scale": {"domain": [460, 717], "nice": false, "zero": false},
          "axis": {"orient": "right", "labels": false, "domain": false, "title": null, "values": [460, 480, 500, 520, 540, 560, 580, 600, 620, 640, 660, 680, 700], "tickSize": {"condition": {"test": "datum.value % 100 === 0", "value": -7}, "value": -4}}}}},
  {"data": {"values": [{"name": "TH0"}]},
   "mark": {"type": "text", "align": "right", "baseline": "top", "fontSize": 15, "font": "Liberation Sans", "color": "black"},
   "encoding": {
    "text": {"field": "name"},
    "x": {"datum": 410, "type": "quantitative", "scale": {"domain": [-520, 422], "nice": false, "zero": false}, "axis": null},
    "y": {"datum": 708, "type": "quantitative", "scale": {"domain": [460, 717], "nice": false, "zero": false}, "axis": null}}}
 ],
 "resolve": {"axis": {"x": "independent", "y": "independent"}}
},
{
 "width": 604, "height": 90,
 "layer": [
  {"mark": {"type": "line", "color": "#00ff00", "strokeWidth": 4, "opacity": 0.3, "clip": true},
   "encoding": {
    "x": {"field": "t", "type": "quantitative", "scale": {"domain": [-520, 422], "nice": false, "zero": false}, "axis": null},
    "y": {"field": "TH1", "type": "quantitative", "scale": {"domain": [428, 672], "nice": false, "zero": false},
          "axis": {"orient": "left", "ticks": false, "domain": false, "values": [450, 500, 550, 600, 650], "format": "d", "labelPadding": 9, "labelFontSize": 15, "labelOverlap": false, "labelBound": false, "title": null}}}},
  {"mark": {"type": "line", "color": "#00ff00", "strokeWidth": 1.2, "clip": true},
   "encoding": {
    "x": {"field": "t", "type": "quantitative", "scale": {"domain": [-520, 422], "nice": false, "zero": false},
          "axis": {"orient": "bottom", "labels": false, "domain": false, "title": null, "values": [-500, -400, -300, -200, -100, 0, 100, 200, 300, 400], "tickSize": {"condition": {"test": "datum.value % 200 === 0", "value": -7}, "value": -4}}},
    "y": {"field": "TH1", "type": "quantitative", "scale": {"domain": [428, 672], "nice": false, "zero": false},
          "axis": {"orient": "left", "labels": false, "domain": false, "title": null, "values": [430, 440, 450, 460, 470, 480, 490, 500, 510, 520, 530, 540, 550, 560, 570, 580, 590, 600, 610, 620, 630, 640, 650, 660, 670], "tickSize": {"condition": {"test": "datum.value % 50 === 0", "value": -7}, "value": -4}}}}},
  {"mark": {"type": "point", "opacity": 0, "size": 1},
   "encoding": {
    "x": {"field": "t", "type": "quantitative", "scale": {"domain": [-520, 422], "nice": false, "zero": false},
          "axis": {"orient": "top", "labels": false, "domain": false, "title": null, "values": [-500, -400, -300, -200, -100, 0, 100, 200, 300, 400], "tickSize": {"condition": {"test": "datum.value % 200 === 0", "value": -7}, "value": -4}}},
    "y": {"field": "TH1", "type": "quantitative", "scale": {"domain": [428, 672], "nice": false, "zero": false},
          "axis": {"orient": "right", "labels": false, "domain": false, "title": null, "values": [430, 440, 450, 460, 470, 480, 490, 500, 510, 520, 530, 540, 550, 560, 570, 580, 590, 600, 610, 620, 630, 640, 650, 660, 670], "tickSize": {"condition": {"test": "datum.value % 50 === 0", "value": -7}, "value": -4}}}}},
  {"data": {"values": [{"name": "TH1"}]},
   "mark": {"type": "text", "align": "right", "baseline": "top", "fontSize": 15, "font": "Liberation Sans", "color": "black"},
   "encoding": {
    "text": {"field": "name"},
    "x": {"datum": 410, "type": "quantitative", "scale": {"domain": [-520, 422], "nice": false, "zero": false}, "axis": null},
    "y": {"datum": 664, "type": "quantitative", "scale": {"domain": [428, 672], "nice": false, "zero": false}, "axis": null}}}
 ],
 "resolve": {"axis": {"x": "independent", "y": "independent"}}
},
{
 "width": 604, "height": 90,
 "layer": [
  {"mark": {"type": "line", "color": "#0000ff", "strokeWidth": 4, "opacity": 0.3, "clip": true},
   "encoding": {
    "x": {"field": "t", "type": "quantitative", "scale": {"domain": [-520, 422], "nice": false, "zero": false}, "axis": null},
    "y": {"field": "TH2", "type": "quantitative", "scale": {"domain": [514, 800], "nice": false, "zero": false},
          "axis": {"orient": "left", "ticks": false, "domain": false, "values": [600, 700, 800], "format": "d", "labelPadding": 9, "labelFontSize": 15, "labelOverlap": false, "labelBound": false, "title": "Counts/sec", "titleFontSize": 15, "titleFontWeight": "normal", "titlePadding": 25, "titleY": 53}}}},
  {"mark": {"type": "line", "color": "#0000ff", "strokeWidth": 1.2, "clip": true},
   "encoding": {
    "x": {"field": "t", "type": "quantitative", "scale": {"domain": [-520, 422], "nice": false, "zero": false},
          "axis": {"orient": "bottom", "labels": false, "domain": false, "title": null, "values": [-500, -400, -300, -200, -100, 0, 100, 200, 300, 400], "tickSize": {"condition": {"test": "datum.value % 200 === 0", "value": -7}, "value": -4}}},
    "y": {"field": "TH2", "type": "quantitative", "scale": {"domain": [514, 800], "nice": false, "zero": false},
          "axis": {"orient": "left", "labels": false, "domain": false, "title": null, "values": [520, 540, 560, 580, 600, 620, 640, 660, 680, 700, 720, 740, 760, 780, 800], "tickSize": {"condition": {"test": "datum.value % 100 === 0", "value": -7}, "value": -4}}}}},
  {"mark": {"type": "point", "opacity": 0, "size": 1},
   "encoding": {
    "x": {"field": "t", "type": "quantitative", "scale": {"domain": [-520, 422], "nice": false, "zero": false},
          "axis": {"orient": "top", "labels": false, "domain": false, "title": null, "values": [-500, -400, -300, -200, -100, 0, 100, 200, 300, 400], "tickSize": {"condition": {"test": "datum.value % 200 === 0", "value": -7}, "value": -4}}},
    "y": {"field": "TH2", "type": "quantitative", "scale": {"domain": [514, 800], "nice": false, "zero": false},
          "axis": {"orient": "right", "labels": false, "domain": false, "title": null, "values": [520, 540, 560, 580, 600, 620, 640, 660, 680, 700, 720, 740, 760, 780, 800], "tickSize": {"condition": {"test": "datum.value % 100 === 0", "value": -7}, "value": -4}}}}},
  {"data": {"values": [{"name": "TH2"}]},
   "mark": {"type": "text", "align": "right", "baseline": "top", "fontSize": 15, "font": "Liberation Sans", "color": "black"},
   "encoding": {
    "text": {"field": "name"},
    "x": {"datum": 410, "type": "quantitative", "scale": {"domain": [-520, 422], "nice": false, "zero": false}, "axis": null},
    "y": {"datum": 791, "type": "quantitative", "scale": {"domain": [514, 800], "nice": false, "zero": false}, "axis": null}}}
 ],
 "resolve": {"axis": {"x": "independent", "y": "independent"}}
},
{
 "width": 604, "height": 90,
 "layer": [
  {"mark": {"type": "line", "color": "#00ffff", "strokeWidth": 4, "opacity": 0.3, "clip": true},
   "encoding": {
    "x": {"field": "t", "type": "quantitative", "scale": {"domain": [-520, 422], "nice": false, "zero": false}, "axis": null},
    "y": {"field": "TH3", "type": "quantitative", "scale": {"domain": [760, 1172], "nice": false, "zero": false},
          "axis": {"orient": "left", "ticks": false, "domain": false, "values": [800, 900, 1000, 1100], "format": "d", "labelPadding": 9, "labelFontSize": 15, "labelOverlap": false, "labelBound": false, "title": null}}}},
  {"mark": {"type": "line", "color": "#00ffff", "strokeWidth": 1.2, "clip": true},
   "encoding": {
    "x": {"field": "t", "type": "quantitative", "scale": {"domain": [-520, 422], "nice": false, "zero": false},
          "axis": {"orient": "bottom", "labels": false, "domain": false, "title": null, "values": [-500, -400, -300, -200, -100, 0, 100, 200, 300, 400], "tickSize": {"condition": {"test": "datum.value % 200 === 0", "value": -7}, "value": -4}}},
    "y": {"field": "TH3", "type": "quantitative", "scale": {"domain": [760, 1172], "nice": false, "zero": false},
          "axis": {"orient": "left", "labels": false, "domain": false, "title": null, "values": [760, 780, 800, 820, 840, 860, 880, 900, 920, 940, 960, 980, 1000, 1020, 1040, 1060, 1080, 1100, 1120, 1140, 1160], "tickSize": {"condition": {"test": "datum.value % 100 === 0", "value": -7}, "value": -4}}}}},
  {"mark": {"type": "point", "opacity": 0, "size": 1},
   "encoding": {
    "x": {"field": "t", "type": "quantitative", "scale": {"domain": [-520, 422], "nice": false, "zero": false},
          "axis": {"orient": "top", "labels": false, "domain": false, "title": null, "values": [-500, -400, -300, -200, -100, 0, 100, 200, 300, 400], "tickSize": {"condition": {"test": "datum.value % 200 === 0", "value": -7}, "value": -4}}},
    "y": {"field": "TH3", "type": "quantitative", "scale": {"domain": [760, 1172], "nice": false, "zero": false},
          "axis": {"orient": "right", "labels": false, "domain": false, "title": null, "values": [760, 780, 800, 820, 840, 860, 880, 900, 920, 940, 960, 980, 1000, 1020, 1040, 1060, 1080, 1100, 1120, 1140, 1160], "tickSize": {"condition": {"test": "datum.value % 100 === 0", "value": -7}, "value": -4}}}}},
  {"data": {"values": [{"name": "TH3"}]},
   "mark": {"type": "text", "align": "right", "baseline": "top", "fontSize": 15, "font": "Liberation Sans", "color": "black"},
   "encoding": {
    "text": {"field": "name"},
    "x": {"datum": 410, "type": "quantitative", "scale": {"domain": [-520, 422], "nice": false, "zero": false}, "axis": null},
    "y": {"datum": 1158, "type": "quantitative", "scale": {"domain": [760, 1172], "nice": false, "zero": false}, "axis": null}}}
 ],
 "resolve": {"axis": {"x": "independent", "y": "independent"}}
},
{
 "width": 604, "height": 90,
 "layer": [
  {"mark": {"type": "line", "color": "#ff00ff", "strokeWidth": 4, "opacity": 0.3, "clip": true},
   "encoding": {
    "x": {"field": "t", "type": "quantitative", "scale": {"domain": [-520, 422], "nice": false, "zero": false},
          "axis": {"orient": "bottom", "ticks": false, "domain": false, "values": [-400, -200, 0, 200, 400], "labelPadding": 5, "labelFontSize": 15, "labelFlush": false, "labelOverlap": false, "title": "Time [sec] 0 = 2012/11/07 06:37:23", "titleFontSize": 15, "titleFontWeight": "normal", "titlePadding": 4}},
    "y": {"field": "TH0123", "type": "quantitative", "scale": {"domain": [2313, 3213], "nice": false, "zero": false},
          "axis": {"orient": "left", "ticks": false, "domain": false, "values": [2400, 2600, 2800, 3000, 3200], "format": "d", "labelPadding": 9, "labelFontSize": 15, "labelOverlap": false, "labelBound": false, "title": null}}}},
  {"mark": {"type": "line", "color": "#ff00ff", "strokeWidth": 1.2, "clip": true},
   "encoding": {
    "x": {"field": "t", "type": "quantitative", "scale": {"domain": [-520, 422], "nice": false, "zero": false},
          "axis": {"orient": "bottom", "labels": false, "domain": false, "title": null, "values": [-500, -400, -300, -200, -100, 0, 100, 200, 300, 400], "tickSize": {"condition": {"test": "datum.value % 200 === 0", "value": -7}, "value": -4}}},
    "y": {"field": "TH0123", "type": "quantitative", "scale": {"domain": [2313, 3213], "nice": false, "zero": false},
          "axis": {"orient": "left", "labels": false, "domain": false, "title": null, "values": [2400, 2500, 2600, 2700, 2800, 2900, 3000, 3100, 3200], "tickSize": {"condition": {"test": "datum.value % 200 === 0", "value": -7}, "value": -4}}}}},
  {"mark": {"type": "point", "opacity": 0, "size": 1},
   "encoding": {
    "x": {"field": "t", "type": "quantitative", "scale": {"domain": [-520, 422], "nice": false, "zero": false},
          "axis": {"orient": "top", "labels": false, "domain": false, "title": null, "values": [-500, -400, -300, -200, -100, 0, 100, 200, 300, 400], "tickSize": {"condition": {"test": "datum.value % 200 === 0", "value": -7}, "value": -4}}},
    "y": {"field": "TH0123", "type": "quantitative", "scale": {"domain": [2313, 3213], "nice": false, "zero": false},
          "axis": {"orient": "right", "labels": false, "domain": false, "title": null, "values": [2400, 2500, 2600, 2700, 2800, 2900, 3000, 3100, 3200], "tickSize": {"condition": {"test": "datum.value % 200 === 0", "value": -7}, "value": -4}}}}},
  {"data": {"values": [{"name": "TH0123"}]},
   "mark": {"type": "text", "align": "right", "baseline": "top", "fontSize": 15, "font": "Liberation Sans", "color": "black"},
   "encoding": {
    "text": {"field": "name"},
    "x": {"datum": 416, "type": "quantitative", "scale": {"domain": [-520, 422], "nice": false, "zero": false}, "axis": null},
    "y": {"datum": 3183, "type": "quantitative", "scale": {"domain": [2313, 3213], "nice": false, "zero": false}, "axis": null}}}
 ],
 "resolve": {"axis": {"x": "independent", "y": "independent"}}
}
]
}
